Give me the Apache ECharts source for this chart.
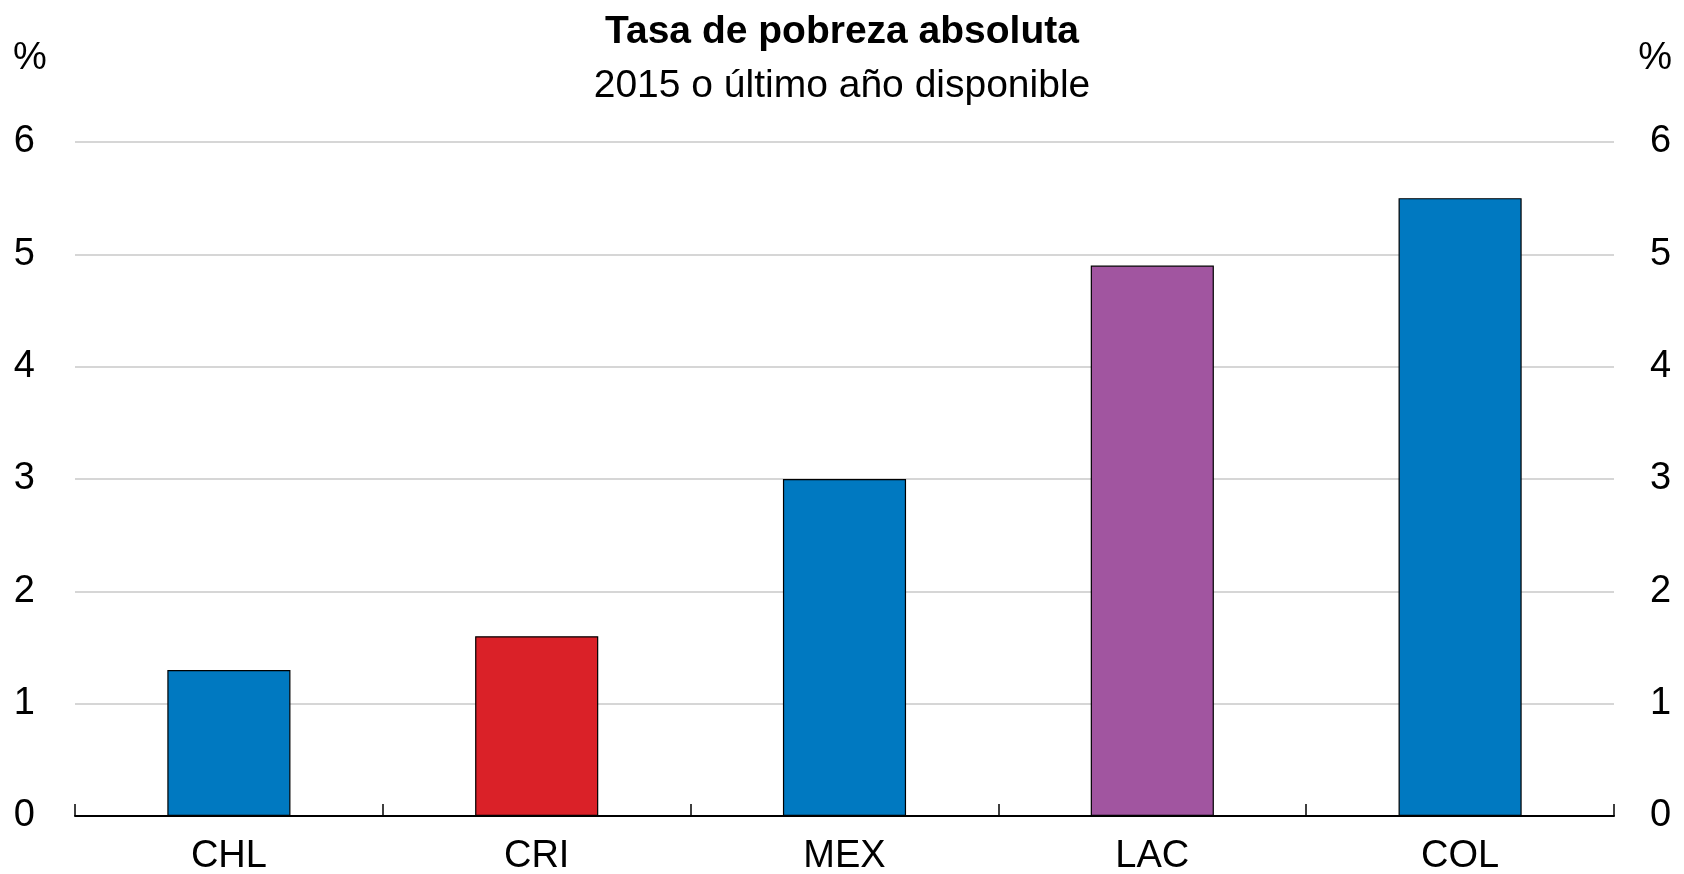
<!DOCTYPE html>
<html>
<head>
<meta charset="utf-8">
<script src="https://cdn.jsdelivr.net/npm/echarts@6/dist/echarts.min.js"></script>
<style>
  html, body { margin: 0; padding: 0; background: #fff; }
  #main { width: 1684px; height: 874px; }
</style>
</head>
<body>
<div id="main"></div>
<script>
// datos del gráfico
var categories = ['CHL', 'CRI', 'MEX', 'LAC', 'COL'];
var values = [1.3, 1.6, 3.0, 4.9, 5.5];
var barColors = ['#0079C1', '#DA2128', '#0079C1', '#A155A0', '#0079C1'];
var yTicks = [0, 1, 2, 3, 4, 5, 6];

var font = '"Liberation Sans Narrow", "Arial Narrow", "Liberation Sans", Arial, sans-serif';

var myChart = echarts.init(document.getElementById('main'));

var yLabel = {
    fontFamily: font,
    fontSize: 38,
    color: '#000'
};

var option = {
    backgroundColor: '#fff',
    animation: false,
    title: [{
        text: 'Tasa de pobreza absoluta',
        left: 'center',
        top: 8,
        textStyle: { fontFamily: font, fontSize: 39, fontWeight: 'bold', color: '#000' }
    }, {
        text: '2015 o último año disponible',
        left: 'center',
        top: 62,
        textStyle: { fontFamily: font, fontSize: 39, fontWeight: 'normal', color: '#000' }
    }],
    graphic: [{
        type: 'text', left: 13, top: 40,
        style: { text: '%', font: '38px ' + font, fill: '#000' }
    }, {
        type: 'text', right: 12, top: 40,
        style: { text: '%', font: '38px ' + font, fill: '#000' }
    }],
    grid: { left: 75, right: 70, top: 142, bottom: 58, outerBoundsMode: 'none', containLabel: false },
    xAxis: {
        type: 'category',
        data: categories,
        axisLine: { lineStyle: { color: '#000', width: 2 } },
        axisTick: { show: true, inside: true, interval: 0, alignWithLabel: false, length: 12, lineStyle: { color: '#000', width: 1.5 } },
        axisLabel: { fontFamily: font, fontSize: 38, color: '#000', margin: 22 }
    },
    yAxis: [{
        type: 'value',
        min: yTicks[0],
        max: yTicks[yTicks.length - 1],
        interval: 1,
        axisLine: { show: false },
        axisTick: { show: false },
        splitLine: { lineStyle: { color: '#C8C8C8', width: 1.5 } },
        axisLabel: Object.assign({ margin: 40 }, yLabel)
    }, {
        type: 'value',
        min: yTicks[0],
        max: yTicks[yTicks.length - 1],
        interval: 1,
        axisLine: { show: false },
        axisTick: { show: false },
        splitLine: { show: false },
        axisLabel: Object.assign({ margin: 36 }, yLabel)
    }],
    series: [{
        type: 'bar',
        barWidth: '40%',
        data: values.map(function (v, i) {
            return { value: v, itemStyle: { color: barColors[i] } };
        }),
        itemStyle: { borderColor: '#000', borderWidth: 1.2 }
    }]
};

myChart.setOption(option);
</script>
</body>
</html>
